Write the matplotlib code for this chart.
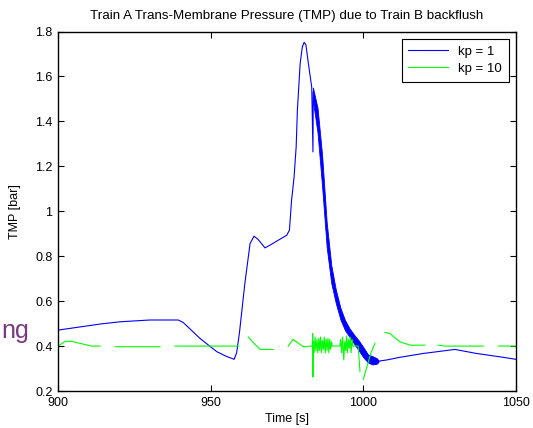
import numpy as np
import matplotlib
matplotlib.use("Agg")
import matplotlib.pyplot as plt

plt.rcParams['font.family'] = ['Liberation Sans', 'DejaVu Sans']

#%% Data
# kp = 1, smooth parts
blue_t = [900, 913.8, 920.3, 930.1, 939.4, 941, 946.5, 952, 955, 957.7,
          958.5, 959.4, 961.2, 962.9, 964.2, 965.5, 967.8, 969.4, 972, 974.9,
          975.8, 976.5, 977.3, 978, 978.4, 979.3, 980, 980.6, 981.2, 982,
          983.1, 983.5, 983.6]
blue_v = [0.471, 0.498, 0.508, 0.516, 0.516, 0.505, 0.434, 0.375, 0.355, 0.341,
          0.37, 0.456, 0.679, 0.856, 0.889, 0.875, 0.837, 0.849, 0.87, 0.893,
          0.916, 1.049, 1.15, 1.286, 1.449, 1.656, 1.73, 1.752, 1.74, 1.658,
          1.552, 1.264, 1.53]
# kp = 1, noisy decay (band read as lower / upper edge)
band_t = [983.5, 985, 986.5, 988, 989.5, 991, 992.5, 994, 995.5, 997,
          998.5, 1000, 1001.5, 1003, 1004.5, 1005]
band_lo = [1.49, 1.35, 1.11, 0.84, 0.68, 0.59, 0.518, 0.47, 0.44, 0.41,
           0.38, 0.35, 0.327, 0.318, 0.322, 0.331]
band_hi = [1.55, 1.46, 1.25, 0.95, 0.76, 0.65, 0.57, 0.515, 0.478, 0.45,
           0.425, 0.395, 0.363, 0.355, 0.345, 0.334]
# kp = 1, tail
tail_t = [1005, 1007.6, 1012, 1019.6, 1030, 1037.1, 1044.8, 1050]
tail_v = [0.333, 0.338, 0.35, 0.367, 0.385, 0.367, 0.352, 0.341]

# kp = 10 (NaN = gap in the logged signal)
nan = np.nan
green_t = [900, 902.4, 904.5, 907.2, 911, 913.8, 914,
           918.7, 933.4, 934,
           938.3, 959, 960,
           962.3, 964, 966.2, 970.5, 971,
           975.4, 977, 978.5, 980.3, 983.1,
           983.3, 983.4, 983.5, 983.6, 983.9, 984.2, 984.5, 984.8, 985.1, 985.4,
           985.7, 986.0, 986.3, 986.6, 986.9, 987.2, 987.5, 987.8, 988.1, 988.4,
           988.7, 989.0, 989.3, 989.6, 989.8,
           992.3, 992.6, 992.9, 993.2, 993.6, 993.9, 994.2, 994.5, 994.8, 995.1,
           995.4, 995.7, 996.0, 996.3, 996.6, 998.3, 998.9, 999,
           1000, 1001, 1002.5, 1003.8, 1004,
           1007.1, 1008.7, 1010.5, 1012, 1015.3, 1020.2, 1021,
           1024.5, 1026.7, 1039.3, 1040,
           1044.2, 1050]
green_v = [0.40, 0.421, 0.421, 0.412, 0.40, 0.40, nan,
           0.397, 0.397, nan,
           0.40, 0.40, nan,
           0.441, 0.415, 0.385, 0.385, nan,
           0.40, 0.43, 0.415, 0.397, 0.40,
           0.40, 0.456, 0.263, 0.42, 0.37, 0.44, 0.38, 0.43, 0.37, 0.435,
           0.38, 0.44, 0.37, 0.425, 0.385, 0.44, 0.37, 0.43, 0.38, 0.435,
           0.37, 0.43, 0.385, 0.42, 0.40,
           0.40, 0.43, 0.37, 0.44, 0.338, 0.42, 0.38, 0.445, 0.37, 0.43,
           0.39, 0.44, 0.37, 0.43, 0.40, 0.40, 0.286, nan,
           0.252, 0.30, 0.37, 0.412, nan,
           0.461, 0.456, 0.435, 0.419, 0.404, 0.404, nan,
           0.404, 0.40, 0.40, nan,
           0.40, 0.40]

x_ticks = [900, 950, 1000, 1050]
y_ticks = [0.2, 0.4, 0.6, 0.8, 1.0, 1.2, 1.4, 1.6, 1.8]
y_labels = ['0.2', '0.4', '0.6', '0.8', '1', '1.2', '1.4', '1.6', '1.8']

#%% Figure
fig = plt.figure(figsize=(5.33, 4.28), dpi=100)
ax = fig.add_axes([58/533, 37/428, 458/533, 359.5/428])

blue = '#0000ff'
green = '#00ff00'
ax.plot(blue_t, blue_v, color=blue, lw=0.8, label='kp = 1')
ax.fill_between(band_t, band_lo, band_hi, color=blue, lw=0.6)
ax.plot(tail_t, tail_v, color=blue, lw=0.8)
ax.plot(green_t, green_v, color=green, lw=0.8, label='kp = 10')

ax.set_xlim(900, 1050)
ax.set_ylim(0.2, 1.8)
ax.set_xticks(x_ticks)
ax.set_xticklabels([str(t) for t in x_ticks])
ax.set_yticks(y_ticks)
ax.set_yticklabels(y_labels)
ax.tick_params(direction='in', length=4, width=0.8, top=True, right=True,
               labelsize=9, pad=4)
for s in ax.spines.values():
    s.set_linewidth(1.0)

ax.set_title('Train A Trans-Membrane Pressure (TMP) due to Train B backflush',
             fontsize=9.6, pad=9)
ax.set_xlabel('Time [s]', fontsize=9, labelpad=3)
ax.set_ylabel('TMP [bar]', fontsize=9, labelpad=10)

leg = ax.legend(loc='upper right', fontsize=9.5, fancybox=False,
                edgecolor='black', framealpha=1, handlelength=3.0,
                borderaxespad=0.55, borderpad=0.5, labelspacing=0.4)
leg.get_frame().set_linewidth(0.8)

# leftover slide text at the left edge
fig.text(1/533, 1 - 338/428, 'ng', color='#7b3a80', fontsize=18,
         ha='left', va='baseline')

fig.savefig('out.png', dpi=100)
